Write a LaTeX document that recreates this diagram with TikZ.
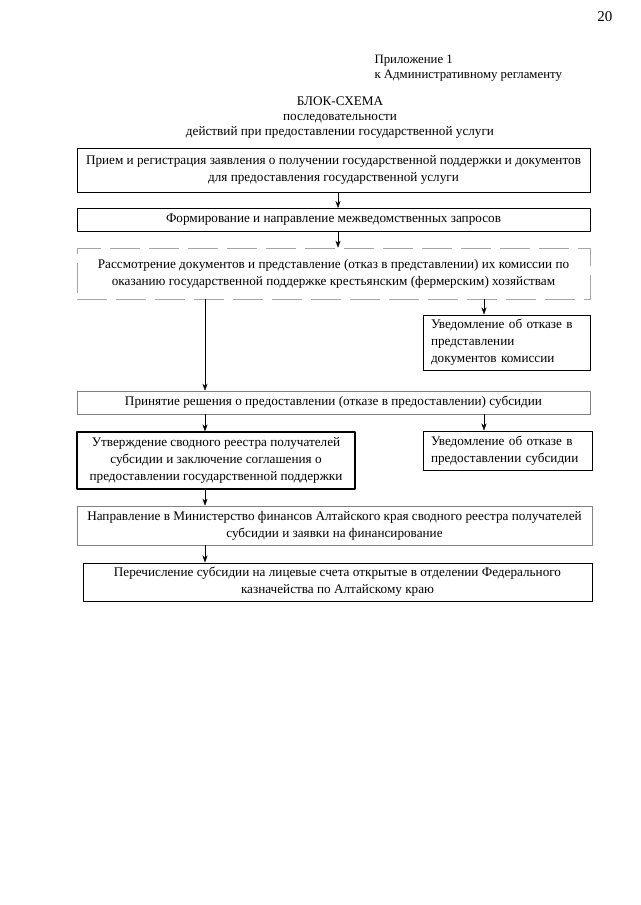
\documentclass[tikz,border=0pt]{standalone}
\usepackage{fontspec}
\setmainfont{Liberation Serif}
\usetikzlibrary{arrows.meta}
\tikzset{
  box/.style={draw, line width=1pt, inner sep=0pt, align=center},
  faintbox/.style={draw=black!50, line width=.7pt, inner sep=0pt, align=center},
  dashbox/.style={faintbox, draw=black!35, dash pattern=on 30pt off 9pt},
}
\begin{document}
\begin{tikzpicture}[x=1pt, y=-1pt, font=\fontsize{13.2}{17}\selectfont, line join=round, >={Stealth[length=7pt,width=5pt]}]
	\useasboundingbox (0,0) rectangle (640,905);
	% шапка
	\node[anchor=base east, font=\fontsize{15}{17}\selectfont] (page) at (616,21) {20};
	\node[anchor=base west, font=\fontsize{12.8}{15}\selectfont] (pril) at (371,63) {Приложение 1};
	\node[anchor=base west, font=\fontsize{12.8}{15}\selectfont] (regl) at (371,78) {к Административному регламенту};
	\node[anchor=base] (title) at (340,105) {БЛОК-СХЕМА};
	\node[anchor=base] (sub1) at (340,120) {последовательности};
	\node[anchor=base] (sub2) at (340,135) {действий при предоставлении государственной услуги};
	% колонки стрелок
	\coordinate (ccol) at (338,0);
	\coordinate (lcol) at (205,0);
	\coordinate (rcol) at (484,0);
	% блоки
	\node[box, minimum width=513, minimum height=44] (b1) at (333.5,170) {Прием и регистрация заявления о получении государственной поддержки и документов\\для предоставления государственной услуги};
	\node[box, minimum width=513, minimum height=23] (b2) at (333.5,220) {Формирование и направление межведомственных запросов};
	\node[dashbox, minimum width=513, minimum height=51] (b3) at (333.5,273.5) {Рассмотрение документов и представление (отказ в представлении) их комиссии по\\оказанию государственной поддержке крестьянским (фермерским) хозяйствам};
	\node[box, minimum width=167, minimum height=55, text width=151, align=left] (b4) at (506.5,342.5) {Уведомление об отказе в\\представлении\\документов комиссии};
	\node[faintbox, minimum width=513, minimum height=23] (b5) at (333.5,402.5) {Принятие решения о предоставлении (отказе в предоставлении) субсидии};
	\node[box, line width=1.3pt, minimum width=278, minimum height=57] (b6) at (216,460.5) {Утверждение сводного реестра получателей\\субсидии и заключение соглашения о\\предоставлении государственной поддержки};
	\node[box, minimum width=169, minimum height=39, text width=153, align=left] (b7) at (507.5,450.5) {Уведомление об отказе в\\предоставлении субсидии};
	\node[faintbox, minimum width=515, minimum height=39] (b8) at (334.5,525.5) {Направление в Министерство финансов Алтайского края сводного реестра получателей\\субсидии и заявки на финансирование};
	\node[box, minimum width=509, minimum height=38] (b9) at (337.5,582) {Перечисление субсидии на лицевые счета открытые в отделении Федерального\\казначейства по Алтайскому краю};
	% стрелки
	\draw[->] (b1.south -| ccol) -- (b2.north -| ccol);
	\draw[->] (b2.south -| ccol) -- (b3.north -| ccol);
	\draw[->] (b3.south -| lcol) -- (b5.north -| lcol);
	\draw[->] (b3.south -| rcol) -- (b4.north -| rcol);
	\draw[->] (b5.south -| lcol) -- (b6.north -| lcol);
	\draw[->] (b5.south -| rcol) -- (b7.north -| rcol);
	\draw[->] (b6.south -| lcol) -- (b8.north -| lcol);
	\draw[->] (b8.south -| lcol) -- (b9.north -| lcol);
\end{tikzpicture}
\end{document}
